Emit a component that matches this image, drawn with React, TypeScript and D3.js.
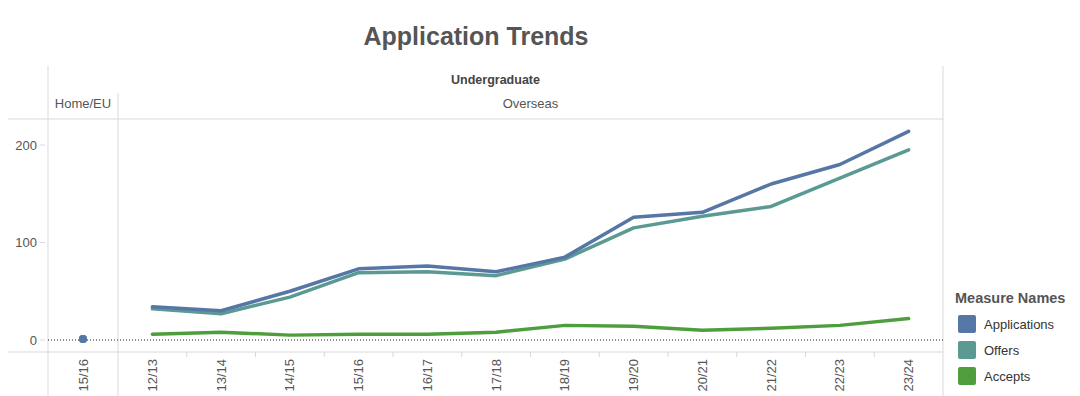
import React from "react";
import * as d3 from "d3";

const homeYears = ["15/16"];
const overseasYears = ["12/13", "13/14", "14/15", "15/16", "16/17", "17/18", "18/19", "19/20", "20/21", "21/22", "22/23", "23/24"];
const measures = ["Applications", "Offers", "Accepts"];
const colors = ["#5677a6", "#5b9a93", "#4f9e3e"];
const homeValues = [1, 1, 1];
const applications = [34, 30, 50, 73, 76, 70, 85, 126, 131, 160, 180, 214];
const offers = [32, 27, 44, 69, 70, 66, 83, 115, 127, 137, 166, 195];
const accepts = [6, 8, 5, 6, 6, 8, 15, 14, 10, 12, 15, 22];
const yTicks = [0, 100, 200];

const W = 1080;
const H = 396;
const font = "'Liberation Sans', Arial, sans-serif";
const textGray = "#555";
const rule = "#d9d9d9";

export default function App() {
  const left = 48;
  const split = 118;
  const right = 943;
  const top = 119;
  const bottom = 352;

  const y = d3.scaleLinear().domain([0, 200]).range([340, 145]);
  const xHome = d3.scaleBand().domain(homeYears).range([left, split]);
  const xOver = d3.scaleBand().domain(overseasYears).range([split, right]);
  const cx = (s: d3.ScaleBand<string>, d: string) => (s(d) ?? 0) + s.bandwidth() / 2;

  const series = [applications, offers, accepts];
  const line = d3
    .line<number>()
    .x((_, i) => cx(xOver, overseasYears[i]))
    .y((v) => y(v));

  const drawOrder = [2, 1, 0];

  return (
    <svg width={W} height={H} style={{ position: "absolute", left: 0, top: 0 }} fontFamily={font}>
      <rect width={W} height={H} fill="#fff" />
      <text x={476} y={45} textAnchor="middle" fontSize={25} fontWeight="bold" fill={textGray}>
        Application Trends
      </text>

      {/* frame */}
      <line x1={left} x2={left} y1={66} y2={H} stroke={rule} />
      <line x1={right} x2={right} y1={66} y2={H} stroke={rule} />
      <line x1={split} x2={split} y1={93} y2={H} stroke={rule} />
      <line x1={8} x2={right} y1={top} y2={top} stroke={rule} />
      <line x1={8} x2={right} y1={bottom} y2={bottom} stroke={rule} />

      <text x={(left + right) / 2} y={84} textAnchor="middle" fontSize={12.5} fontWeight="bold" fill="#444">
        Undergraduate
      </text>
      <text x={(left + split) / 2} y={108} textAnchor="middle" fontSize={13} fill={textGray}>
        Home/EU
      </text>
      <text x={(split + right) / 2} y={108} textAnchor="middle" fontSize={13} fill={textGray}>
        Overseas
      </text>

      {/* y axis */}
      {yTicks.map((t) => (
        <g key={t}>
          <line x1={40} x2={45} y1={y(t)} y2={y(t)} stroke={rule} />
          <text x={37} y={y(t) + 4.5} textAnchor="end" fontSize={13} fill={textGray}>
            {t}
          </text>
        </g>
      ))}

      <line x1={left} x2={right} y1={y(0)} y2={y(0)} stroke="#222" strokeDasharray="1,2" strokeWidth={1} />

      {/* x axis */}
      {overseasYears.slice(1).map((d) => (
        <line key={d} x1={xOver(d)} x2={xOver(d)} y1={bottom} y2={bottom + 5} stroke={rule} />
      ))}
      {homeYears.map((d) => (
        <text
          key={"h" + d}
          transform={`translate(${cx(xHome, d) + 4.5},${bottom + 7}) rotate(-90)`}
          textAnchor="end"
          fontSize={13}
          fill={textGray}
        >
          {d}
        </text>
      ))}
      {overseasYears.map((d) => (
        <text
          key={"o" + d}
          transform={`translate(${cx(xOver, d) + 4.5},${bottom + 7}) rotate(-90)`}
          textAnchor="end"
          fontSize={13}
          fill={textGray}
        >
          {d}
        </text>
      ))}

      {/* marks */}
      {drawOrder.map((i) => (
        <circle key={"c" + i} cx={cx(xHome, homeYears[0])} cy={y(homeValues[i])} r={4} fill={colors[i]} />
      ))}
      {drawOrder.map((i) => (
        <path
          key={"l" + i}
          d={line(series[i]) ?? ""}
          fill="none"
          stroke={colors[i]}
          strokeWidth={3.5}
          strokeLinejoin="round"
          strokeLinecap="round"
        />
      ))}

      {/* legend */}
      <text x={955} y={303} fontSize={14.5} fontWeight="bold" fill={textGray}>
        Measure Names
      </text>
      {measures.map((m, i) => (
        <g key={m} transform={`translate(958,${315 + i * 26})`}>
          <rect width={18} height={18} rx={2} fill={colors[i]} />
          <text x={26} y={14} fontSize={13} fill="#333">
            {m}
          </text>
        </g>
      ))}
    </svg>
  );
}
